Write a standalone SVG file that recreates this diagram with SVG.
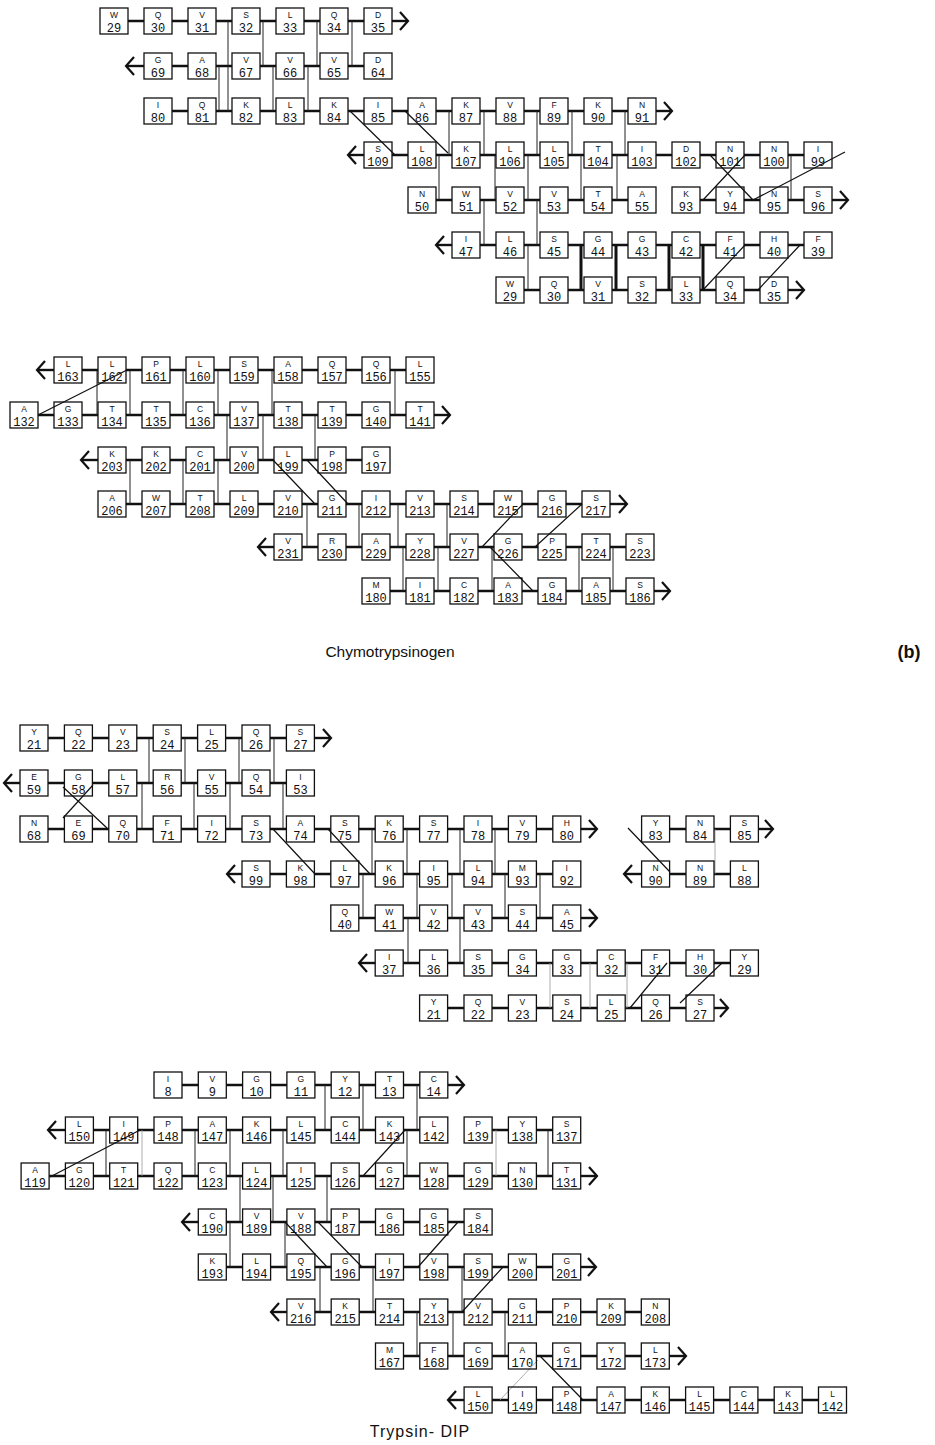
<svg xmlns="http://www.w3.org/2000/svg" xmlns:xlink="http://www.w3.org/1999/xlink" width="935" height="1445" viewBox="0 0 935 1445">
<style>
.bx{fill:none;stroke:#111;stroke-width:1.3}
.aa{font-family:"Liberation Sans",Arial,sans-serif;font-size:8.5px;text-anchor:middle;fill:#111}
.nm{font-family:"Liberation Mono","DejaVu Sans Mono",monospace;font-size:12px;text-anchor:middle;fill:#111}
.ch{fill:none;stroke:#111;stroke-width:2.4;stroke-dasharray:16 28}
.ch3{stroke-dasharray:16.4 28}
.ch4{stroke-dasharray:16.3 28}
.hb{fill:none;stroke:#222;stroke-width:1}
.ss{fill:none;stroke:#111;stroke-width:3}
.dg{fill:none;stroke:#111;stroke-width:1.2}
.ft{fill:none;stroke:#999;stroke-width:0.8}
.ar{fill:none;stroke:#111;stroke-width:2.4;marker-end:url(#ah)}
.lab{font-family:"Liberation Sans",Arial,sans-serif;fill:#111}
</style>
<defs>
<rect id="b" class="bx" x="-14" y="-13" width="28" height="26"/>
<marker id="ah" markerUnits="userSpaceOnUse" markerWidth="12" markerHeight="22" viewBox="0 0 12 22" refX="10" refY="11" orient="auto"><path d="M2,2 L10,11 L2,20" fill="none" stroke="#111" stroke-width="2.2"/></marker>
</defs>
<rect width="935" height="1445" fill="#fff"/>

<!-- backbone chains, hydrogen bonds, disulfides and cross links -->
<g id="connectors">
<!-- chymotrypsinogen, upper sheet -->
<path class="ch" d="M128,21H364M172,66H364M172,111H628M392,155H804M436,200H628M700,200H804M480,245H804M524,290H760"/>
<path class="ar" d="M392,21H408"/><path class="ar" d="M144,66H126"/><path class="ar" d="M656,111H672"/><path class="ar" d="M364,155H348"/><path class="ar" d="M832,200H848"/><path class="ar" d="M452,245H436"/><path class="ar" d="M788,290H804"/>
<path class="hb" d="M228,21V111M219,66V111M263,21V66M273,66V111M308,66V111M317,21V66M352,21V66M449,111V155M484,111V155M439,155V200M495,155V200M484,200V245M537,111V155M528,155V200M537,200V245M528,245V290M572,111V155M581,155V200M617,155V200M625,111V155M791,155V200"/>
<path class="ss" d="M581,245V290M616,245V290M669,245V290M703,245V290"/>
<path class="dg" d="M350,111L395,155M405,111L448,153M710,155L753,200M703,200L745,155M753,200L845,152M703,290L745,245M758,290L800,245"/>
<!-- chymotrypsinogen, lower sheet -->
<path class="ch" d="M82,370H406M38,415H406M126,460H362M126,504H582M302,547H626M390,591H626"/>
<path class="ar" d="M54,370H37"/><path class="ar" d="M434,415H450"/><path class="ar" d="M98,460H81"/><path class="ar" d="M610,504H627"/><path class="ar" d="M274,547H258"/><path class="ar" d="M654,591H670"/>
<path class="hb" d="M97,370V415M130,370V415M183,370V415M218,370V415M272,370V415M395,370V415M227,415V460M263,415V460M315,415V460M130,460V504M183,460V504M218,460V504M307,504V547M359,504V547M398,504V547M447,504V547M403,547V591M438,547V591M492,547V591M579,547V591M613,547V591"/>
<path class="dg" d="M38,415L127,370M273,460L315,504M307,460L348,504M482,547L523,504M535,547L582,504M490,547L533,591"/>
<!-- trypsin, upper sheet -->
<path class="ch ch3" d="M48,738H286.4M48,783H286.4M48,829H552.8M669.6,829H730.4M270,874H552.8M669.6,874H730.4M358.8,918H552.8M403.2,963H730.4M447.6,1008H686"/>
<path class="ar" d="M314.4,738H331"/><path class="ar" d="M20,783H4"/><path class="ar" d="M580.8,829H597"/><path class="ar" d="M758.4,829H773"/><path class="ar" d="M242,874H227"/><path class="ar" d="M641.6,874H624"/><path class="ar" d="M580.8,918H597"/><path class="ar" d="M375.2,963H359"/><path class="ar" d="M714,1008H728"/>
<path class="hb" d="M149,738V783M185,738V783M239,738V783M274,738V783M142,783V829M194,783V829M230,783V829M283,783V829M372,829V874M407,829V874M460,829V874M495,829V874M363,874V918M417,874V918M452,874V918M505,874V918M540,874V918M408,918V963M460,918V963"/>
<path class="ft" d="M715,829V874M550,963V1008M590,963V1008M627,963V1008"/>
<path class="dg" d="M63,787L107,828M93,785L63,818M273,829L315,874M328,829L370,874M628,828L670,872M630,1008L667,963M680,1003L722,963"/>
<!-- trypsin, lower sheet -->
<path class="ch ch4" d="M182,1085H419.8M93.4,1130H419.8M492.1,1130H552.7M49.1,1176H552.7M226.3,1222H464.1M226.3,1267H552.7M314.9,1312H641.3M403.5,1356H641.3M492.1,1400H818.5"/>
<path class="ar" d="M447.8,1085H464"/><path class="ar" d="M65.4,1130H48"/><path class="ar" d="M580.7,1176H597"/><path class="ar" d="M198.3,1222H182"/><path class="ar" d="M580.7,1267H596"/><path class="ar" d="M286.9,1312H271"/><path class="ar" d="M669.3,1356H686"/><path class="ar" d="M464.1,1400H448"/>
<path class="hb" d="M325,1085V1130M363,1085V1130M417,1085V1130M106,1130V1176M195,1130V1176M230,1130V1176M283,1130V1176M407,1130V1176M548,1130V1176M240,1176V1222M273,1176V1222M327,1176V1222M230,1222V1267M285,1222V1267M320,1267V1312M373,1267V1312M462,1267V1312M417,1312V1356M453,1312V1356M505,1312V1356"/>
<path class="ft" d="M142,1130V1176M496,1130V1176M538,1360L500,1400"/>
<path class="dg" d="M50,1177L140,1130M363,1176L405,1130M285,1222L327,1267M318,1222L362,1267M458,1222L418,1267M503,1267L462,1312M540,1356L583,1400"/>
</g>

<!-- chymotrypsinogen residues, upper sheet -->
<g id="c-W29" transform="translate(114,21)"><use href="#b"/><text class="aa" y="-3">W</text><text class="nm" y="10.5">29</text></g>
<g id="c-Q30" transform="translate(158,21)"><use href="#b"/><text class="aa" y="-3">Q</text><text class="nm" y="10.5">30</text></g>
<g id="c-V31" transform="translate(202,21)"><use href="#b"/><text class="aa" y="-3">V</text><text class="nm" y="10.5">31</text></g>
<g id="c-S32" transform="translate(246,21)"><use href="#b"/><text class="aa" y="-3">S</text><text class="nm" y="10.5">32</text></g>
<g id="c-L33" transform="translate(290,21)"><use href="#b"/><text class="aa" y="-3">L</text><text class="nm" y="10.5">33</text></g>
<g id="c-Q34" transform="translate(334,21)"><use href="#b"/><text class="aa" y="-3">Q</text><text class="nm" y="10.5">34</text></g>
<g id="c-D35" transform="translate(378,21)"><use href="#b"/><text class="aa" y="-3">D</text><text class="nm" y="10.5">35</text></g>
<g id="c-G69" transform="translate(158,66)"><use href="#b"/><text class="aa" y="-3">G</text><text class="nm" y="10.5">69</text></g>
<g id="c-A68" transform="translate(202,66)"><use href="#b"/><text class="aa" y="-3">A</text><text class="nm" y="10.5">68</text></g>
<g id="c-V67" transform="translate(246,66)"><use href="#b"/><text class="aa" y="-3">V</text><text class="nm" y="10.5">67</text></g>
<g id="c-V66" transform="translate(290,66)"><use href="#b"/><text class="aa" y="-3">V</text><text class="nm" y="10.5">66</text></g>
<g id="c-V65" transform="translate(334,66)"><use href="#b"/><text class="aa" y="-3">V</text><text class="nm" y="10.5">65</text></g>
<g id="c-D64" transform="translate(378,66)"><use href="#b"/><text class="aa" y="-3">D</text><text class="nm" y="10.5">64</text></g>
<g id="c-I80" transform="translate(158,111)"><use href="#b"/><text class="aa" y="-3">I</text><text class="nm" y="10.5">80</text></g>
<g id="c-Q81" transform="translate(202,111)"><use href="#b"/><text class="aa" y="-3">Q</text><text class="nm" y="10.5">81</text></g>
<g id="c-K82" transform="translate(246,111)"><use href="#b"/><text class="aa" y="-3">K</text><text class="nm" y="10.5">82</text></g>
<g id="c-L83" transform="translate(290,111)"><use href="#b"/><text class="aa" y="-3">L</text><text class="nm" y="10.5">83</text></g>
<g id="c-K84" transform="translate(334,111)"><use href="#b"/><text class="aa" y="-3">K</text><text class="nm" y="10.5">84</text></g>
<g id="c-I85" transform="translate(378,111)"><use href="#b"/><text class="aa" y="-3">I</text><text class="nm" y="10.5">85</text></g>
<g id="c-A86" transform="translate(422,111)"><use href="#b"/><text class="aa" y="-3">A</text><text class="nm" y="10.5">86</text></g>
<g id="c-K87" transform="translate(466,111)"><use href="#b"/><text class="aa" y="-3">K</text><text class="nm" y="10.5">87</text></g>
<g id="c-V88" transform="translate(510,111)"><use href="#b"/><text class="aa" y="-3">V</text><text class="nm" y="10.5">88</text></g>
<g id="c-F89" transform="translate(554,111)"><use href="#b"/><text class="aa" y="-3">F</text><text class="nm" y="10.5">89</text></g>
<g id="c-K90" transform="translate(598,111)"><use href="#b"/><text class="aa" y="-3">K</text><text class="nm" y="10.5">90</text></g>
<g id="c-N91" transform="translate(642,111)"><use href="#b"/><text class="aa" y="-3">N</text><text class="nm" y="10.5">91</text></g>
<g id="c-S109" transform="translate(378,155)"><use href="#b"/><text class="aa" y="-3">S</text><text class="nm" y="10.5">109</text></g>
<g id="c-L108" transform="translate(422,155)"><use href="#b"/><text class="aa" y="-3">L</text><text class="nm" y="10.5">108</text></g>
<g id="c-K107" transform="translate(466,155)"><use href="#b"/><text class="aa" y="-3">K</text><text class="nm" y="10.5">107</text></g>
<g id="c-L106" transform="translate(510,155)"><use href="#b"/><text class="aa" y="-3">L</text><text class="nm" y="10.5">106</text></g>
<g id="c-L105" transform="translate(554,155)"><use href="#b"/><text class="aa" y="-3">L</text><text class="nm" y="10.5">105</text></g>
<g id="c-T104" transform="translate(598,155)"><use href="#b"/><text class="aa" y="-3">T</text><text class="nm" y="10.5">104</text></g>
<g id="c-I103" transform="translate(642,155)"><use href="#b"/><text class="aa" y="-3">I</text><text class="nm" y="10.5">103</text></g>
<g id="c-D102" transform="translate(686,155)"><use href="#b"/><text class="aa" y="-3">D</text><text class="nm" y="10.5">102</text></g>
<g id="c-N101" transform="translate(730,155)"><use href="#b"/><text class="aa" y="-3">N</text><text class="nm" y="10.5">101</text></g>
<g id="c-N100" transform="translate(774,155)"><use href="#b"/><text class="aa" y="-3">N</text><text class="nm" y="10.5">100</text></g>
<g id="c-I99" transform="translate(818,155)"><use href="#b"/><text class="aa" y="-3">I</text><text class="nm" y="10.5">99</text></g>
<g id="c-N50" transform="translate(422,200)"><use href="#b"/><text class="aa" y="-3">N</text><text class="nm" y="10.5">50</text></g>
<g id="c-W51" transform="translate(466,200)"><use href="#b"/><text class="aa" y="-3">W</text><text class="nm" y="10.5">51</text></g>
<g id="c-V52" transform="translate(510,200)"><use href="#b"/><text class="aa" y="-3">V</text><text class="nm" y="10.5">52</text></g>
<g id="c-V53" transform="translate(554,200)"><use href="#b"/><text class="aa" y="-3">V</text><text class="nm" y="10.5">53</text></g>
<g id="c-T54" transform="translate(598,200)"><use href="#b"/><text class="aa" y="-3">T</text><text class="nm" y="10.5">54</text></g>
<g id="c-A55" transform="translate(642,200)"><use href="#b"/><text class="aa" y="-3">A</text><text class="nm" y="10.5">55</text></g>
<g id="c-K93" transform="translate(686,200)"><use href="#b"/><text class="aa" y="-3">K</text><text class="nm" y="10.5">93</text></g>
<g id="c-Y94" transform="translate(730,200)"><use href="#b"/><text class="aa" y="-3">Y</text><text class="nm" y="10.5">94</text></g>
<g id="c-N95" transform="translate(774,200)"><use href="#b"/><text class="aa" y="-3">N</text><text class="nm" y="10.5">95</text></g>
<g id="c-S96" transform="translate(818,200)"><use href="#b"/><text class="aa" y="-3">S</text><text class="nm" y="10.5">96</text></g>
<g id="c-I47" transform="translate(466,245)"><use href="#b"/><text class="aa" y="-3">I</text><text class="nm" y="10.5">47</text></g>
<g id="c-L46" transform="translate(510,245)"><use href="#b"/><text class="aa" y="-3">L</text><text class="nm" y="10.5">46</text></g>
<g id="c-S45" transform="translate(554,245)"><use href="#b"/><text class="aa" y="-3">S</text><text class="nm" y="10.5">45</text></g>
<g id="c-G44" transform="translate(598,245)"><use href="#b"/><text class="aa" y="-3">G</text><text class="nm" y="10.5">44</text></g>
<g id="c-G43" transform="translate(642,245)"><use href="#b"/><text class="aa" y="-3">G</text><text class="nm" y="10.5">43</text></g>
<g id="c-C42" transform="translate(686,245)"><use href="#b"/><text class="aa" y="-3">C</text><text class="nm" y="10.5">42</text></g>
<g id="c-F41" transform="translate(730,245)"><use href="#b"/><text class="aa" y="-3">F</text><text class="nm" y="10.5">41</text></g>
<g id="c-H40" transform="translate(774,245)"><use href="#b"/><text class="aa" y="-3">H</text><text class="nm" y="10.5">40</text></g>
<g id="c-F39" transform="translate(818,245)"><use href="#b"/><text class="aa" y="-3">F</text><text class="nm" y="10.5">39</text></g>
<g id="c-W29b" transform="translate(510,290)"><use href="#b"/><text class="aa" y="-3">W</text><text class="nm" y="10.5">29</text></g>
<g id="c-Q30b" transform="translate(554,290)"><use href="#b"/><text class="aa" y="-3">Q</text><text class="nm" y="10.5">30</text></g>
<g id="c-V31b" transform="translate(598,290)"><use href="#b"/><text class="aa" y="-3">V</text><text class="nm" y="10.5">31</text></g>
<g id="c-S32b" transform="translate(642,290)"><use href="#b"/><text class="aa" y="-3">S</text><text class="nm" y="10.5">32</text></g>
<g id="c-L33b" transform="translate(686,290)"><use href="#b"/><text class="aa" y="-3">L</text><text class="nm" y="10.5">33</text></g>
<g id="c-Q34b" transform="translate(730,290)"><use href="#b"/><text class="aa" y="-3">Q</text><text class="nm" y="10.5">34</text></g>
<g id="c-D35b" transform="translate(774,290)"><use href="#b"/><text class="aa" y="-3">D</text><text class="nm" y="10.5">35</text></g>

<!-- chymotrypsinogen residues, lower sheet -->
<g id="c-L163" transform="translate(68,370)"><use href="#b"/><text class="aa" y="-3">L</text><text class="nm" y="10.5">163</text></g>
<g id="c-L162" transform="translate(112,370)"><use href="#b"/><text class="aa" y="-3">L</text><text class="nm" y="10.5">162</text></g>
<g id="c-P161" transform="translate(156,370)"><use href="#b"/><text class="aa" y="-3">P</text><text class="nm" y="10.5">161</text></g>
<g id="c-L160" transform="translate(200,370)"><use href="#b"/><text class="aa" y="-3">L</text><text class="nm" y="10.5">160</text></g>
<g id="c-S159" transform="translate(244,370)"><use href="#b"/><text class="aa" y="-3">S</text><text class="nm" y="10.5">159</text></g>
<g id="c-A158" transform="translate(288,370)"><use href="#b"/><text class="aa" y="-3">A</text><text class="nm" y="10.5">158</text></g>
<g id="c-Q157" transform="translate(332,370)"><use href="#b"/><text class="aa" y="-3">Q</text><text class="nm" y="10.5">157</text></g>
<g id="c-Q156" transform="translate(376,370)"><use href="#b"/><text class="aa" y="-3">Q</text><text class="nm" y="10.5">156</text></g>
<g id="c-L155" transform="translate(420,370)"><use href="#b"/><text class="aa" y="-3">L</text><text class="nm" y="10.5">155</text></g>
<g id="c-A132" transform="translate(24,415)"><use href="#b"/><text class="aa" y="-3">A</text><text class="nm" y="10.5">132</text></g>
<g id="c-G133" transform="translate(68,415)"><use href="#b"/><text class="aa" y="-3">G</text><text class="nm" y="10.5">133</text></g>
<g id="c-T134" transform="translate(112,415)"><use href="#b"/><text class="aa" y="-3">T</text><text class="nm" y="10.5">134</text></g>
<g id="c-T135" transform="translate(156,415)"><use href="#b"/><text class="aa" y="-3">T</text><text class="nm" y="10.5">135</text></g>
<g id="c-C136" transform="translate(200,415)"><use href="#b"/><text class="aa" y="-3">C</text><text class="nm" y="10.5">136</text></g>
<g id="c-V137" transform="translate(244,415)"><use href="#b"/><text class="aa" y="-3">V</text><text class="nm" y="10.5">137</text></g>
<g id="c-T138" transform="translate(288,415)"><use href="#b"/><text class="aa" y="-3">T</text><text class="nm" y="10.5">138</text></g>
<g id="c-T139" transform="translate(332,415)"><use href="#b"/><text class="aa" y="-3">T</text><text class="nm" y="10.5">139</text></g>
<g id="c-G140" transform="translate(376,415)"><use href="#b"/><text class="aa" y="-3">G</text><text class="nm" y="10.5">140</text></g>
<g id="c-T141" transform="translate(420,415)"><use href="#b"/><text class="aa" y="-3">T</text><text class="nm" y="10.5">141</text></g>
<g id="c-K203" transform="translate(112,460)"><use href="#b"/><text class="aa" y="-3">K</text><text class="nm" y="10.5">203</text></g>
<g id="c-K202" transform="translate(156,460)"><use href="#b"/><text class="aa" y="-3">K</text><text class="nm" y="10.5">202</text></g>
<g id="c-C201" transform="translate(200,460)"><use href="#b"/><text class="aa" y="-3">C</text><text class="nm" y="10.5">201</text></g>
<g id="c-V200" transform="translate(244,460)"><use href="#b"/><text class="aa" y="-3">V</text><text class="nm" y="10.5">200</text></g>
<g id="c-L199" transform="translate(288,460)"><use href="#b"/><text class="aa" y="-3">L</text><text class="nm" y="10.5">199</text></g>
<g id="c-P198" transform="translate(332,460)"><use href="#b"/><text class="aa" y="-3">P</text><text class="nm" y="10.5">198</text></g>
<g id="c-G197" transform="translate(376,460)"><use href="#b"/><text class="aa" y="-3">G</text><text class="nm" y="10.5">197</text></g>
<g id="c-A206" transform="translate(112,504)"><use href="#b"/><text class="aa" y="-3">A</text><text class="nm" y="10.5">206</text></g>
<g id="c-W207" transform="translate(156,504)"><use href="#b"/><text class="aa" y="-3">W</text><text class="nm" y="10.5">207</text></g>
<g id="c-T208" transform="translate(200,504)"><use href="#b"/><text class="aa" y="-3">T</text><text class="nm" y="10.5">208</text></g>
<g id="c-L209" transform="translate(244,504)"><use href="#b"/><text class="aa" y="-3">L</text><text class="nm" y="10.5">209</text></g>
<g id="c-V210" transform="translate(288,504)"><use href="#b"/><text class="aa" y="-3">V</text><text class="nm" y="10.5">210</text></g>
<g id="c-G211" transform="translate(332,504)"><use href="#b"/><text class="aa" y="-3">G</text><text class="nm" y="10.5">211</text></g>
<g id="c-I212" transform="translate(376,504)"><use href="#b"/><text class="aa" y="-3">I</text><text class="nm" y="10.5">212</text></g>
<g id="c-V213" transform="translate(420,504)"><use href="#b"/><text class="aa" y="-3">V</text><text class="nm" y="10.5">213</text></g>
<g id="c-S214" transform="translate(464,504)"><use href="#b"/><text class="aa" y="-3">S</text><text class="nm" y="10.5">214</text></g>
<g id="c-W215" transform="translate(508,504)"><use href="#b"/><text class="aa" y="-3">W</text><text class="nm" y="10.5">215</text></g>
<g id="c-G216" transform="translate(552,504)"><use href="#b"/><text class="aa" y="-3">G</text><text class="nm" y="10.5">216</text></g>
<g id="c-S217" transform="translate(596,504)"><use href="#b"/><text class="aa" y="-3">S</text><text class="nm" y="10.5">217</text></g>
<g id="c-V231" transform="translate(288,547)"><use href="#b"/><text class="aa" y="-3">V</text><text class="nm" y="10.5">231</text></g>
<g id="c-R230" transform="translate(332,547)"><use href="#b"/><text class="aa" y="-3">R</text><text class="nm" y="10.5">230</text></g>
<g id="c-A229" transform="translate(376,547)"><use href="#b"/><text class="aa" y="-3">A</text><text class="nm" y="10.5">229</text></g>
<g id="c-Y228" transform="translate(420,547)"><use href="#b"/><text class="aa" y="-3">Y</text><text class="nm" y="10.5">228</text></g>
<g id="c-V227" transform="translate(464,547)"><use href="#b"/><text class="aa" y="-3">V</text><text class="nm" y="10.5">227</text></g>
<g id="c-G226" transform="translate(508,547)"><use href="#b"/><text class="aa" y="-3">G</text><text class="nm" y="10.5">226</text></g>
<g id="c-P225" transform="translate(552,547)"><use href="#b"/><text class="aa" y="-3">P</text><text class="nm" y="10.5">225</text></g>
<g id="c-T224" transform="translate(596,547)"><use href="#b"/><text class="aa" y="-3">T</text><text class="nm" y="10.5">224</text></g>
<g id="c-S223" transform="translate(640,547)"><use href="#b"/><text class="aa" y="-3">S</text><text class="nm" y="10.5">223</text></g>
<g id="c-M180" transform="translate(376,591)"><use href="#b"/><text class="aa" y="-3">M</text><text class="nm" y="10.5">180</text></g>
<g id="c-I181" transform="translate(420,591)"><use href="#b"/><text class="aa" y="-3">I</text><text class="nm" y="10.5">181</text></g>
<g id="c-C182" transform="translate(464,591)"><use href="#b"/><text class="aa" y="-3">C</text><text class="nm" y="10.5">182</text></g>
<g id="c-A183" transform="translate(508,591)"><use href="#b"/><text class="aa" y="-3">A</text><text class="nm" y="10.5">183</text></g>
<g id="c-G184" transform="translate(552,591)"><use href="#b"/><text class="aa" y="-3">G</text><text class="nm" y="10.5">184</text></g>
<g id="c-A185" transform="translate(596,591)"><use href="#b"/><text class="aa" y="-3">A</text><text class="nm" y="10.5">185</text></g>
<g id="c-S186" transform="translate(640,591)"><use href="#b"/><text class="aa" y="-3">S</text><text class="nm" y="10.5">186</text></g>

<text class="lab" x="390" y="657" font-size="15.5" text-anchor="middle">Chymotrypsinogen</text>
<text class="lab" x="909" y="658" font-size="18" font-weight="bold" text-anchor="middle">(b)</text>

<!-- trypsin residues, upper sheet -->
<g id="t-Y21" transform="translate(34,738)"><use href="#b"/><text class="aa" y="-3">Y</text><text class="nm" y="10.5">21</text></g>
<g id="t-Q22" transform="translate(78.4,738)"><use href="#b"/><text class="aa" y="-3">Q</text><text class="nm" y="10.5">22</text></g>
<g id="t-V23" transform="translate(122.8,738)"><use href="#b"/><text class="aa" y="-3">V</text><text class="nm" y="10.5">23</text></g>
<g id="t-S24" transform="translate(167.2,738)"><use href="#b"/><text class="aa" y="-3">S</text><text class="nm" y="10.5">24</text></g>
<g id="t-L25" transform="translate(211.6,738)"><use href="#b"/><text class="aa" y="-3">L</text><text class="nm" y="10.5">25</text></g>
<g id="t-Q26" transform="translate(256,738)"><use href="#b"/><text class="aa" y="-3">Q</text><text class="nm" y="10.5">26</text></g>
<g id="t-S27" transform="translate(300.4,738)"><use href="#b"/><text class="aa" y="-3">S</text><text class="nm" y="10.5">27</text></g>
<g id="t-E59" transform="translate(34,783)"><use href="#b"/><text class="aa" y="-3">E</text><text class="nm" y="10.5">59</text></g>
<g id="t-G58" transform="translate(78.4,783)"><use href="#b"/><text class="aa" y="-3">G</text><text class="nm" y="10.5">58</text></g>
<g id="t-L57" transform="translate(122.8,783)"><use href="#b"/><text class="aa" y="-3">L</text><text class="nm" y="10.5">57</text></g>
<g id="t-R56" transform="translate(167.2,783)"><use href="#b"/><text class="aa" y="-3">R</text><text class="nm" y="10.5">56</text></g>
<g id="t-V55" transform="translate(211.6,783)"><use href="#b"/><text class="aa" y="-3">V</text><text class="nm" y="10.5">55</text></g>
<g id="t-Q54" transform="translate(256,783)"><use href="#b"/><text class="aa" y="-3">Q</text><text class="nm" y="10.5">54</text></g>
<g id="t-I53" transform="translate(300.4,783)"><use href="#b"/><text class="aa" y="-3">I</text><text class="nm" y="10.5">53</text></g>
<g id="t-N68" transform="translate(34,829)"><use href="#b"/><text class="aa" y="-3">N</text><text class="nm" y="10.5">68</text></g>
<g id="t-E69" transform="translate(78.4,829)"><use href="#b"/><text class="aa" y="-3">E</text><text class="nm" y="10.5">69</text></g>
<g id="t-Q70" transform="translate(122.8,829)"><use href="#b"/><text class="aa" y="-3">Q</text><text class="nm" y="10.5">70</text></g>
<g id="t-F71" transform="translate(167.2,829)"><use href="#b"/><text class="aa" y="-3">F</text><text class="nm" y="10.5">71</text></g>
<g id="t-I72" transform="translate(211.6,829)"><use href="#b"/><text class="aa" y="-3">I</text><text class="nm" y="10.5">72</text></g>
<g id="t-S73" transform="translate(256,829)"><use href="#b"/><text class="aa" y="-3">S</text><text class="nm" y="10.5">73</text></g>
<g id="t-A74" transform="translate(300.4,829)"><use href="#b"/><text class="aa" y="-3">A</text><text class="nm" y="10.5">74</text></g>
<g id="t-S75" transform="translate(344.8,829)"><use href="#b"/><text class="aa" y="-3">S</text><text class="nm" y="10.5">75</text></g>
<g id="t-K76" transform="translate(389.2,829)"><use href="#b"/><text class="aa" y="-3">K</text><text class="nm" y="10.5">76</text></g>
<g id="t-S77" transform="translate(433.6,829)"><use href="#b"/><text class="aa" y="-3">S</text><text class="nm" y="10.5">77</text></g>
<g id="t-I78" transform="translate(478,829)"><use href="#b"/><text class="aa" y="-3">I</text><text class="nm" y="10.5">78</text></g>
<g id="t-V79" transform="translate(522.4,829)"><use href="#b"/><text class="aa" y="-3">V</text><text class="nm" y="10.5">79</text></g>
<g id="t-H80" transform="translate(566.8,829)"><use href="#b"/><text class="aa" y="-3">H</text><text class="nm" y="10.5">80</text></g>
<g id="t-Y83" transform="translate(655.6,829)"><use href="#b"/><text class="aa" y="-3">Y</text><text class="nm" y="10.5">83</text></g>
<g id="t-N84" transform="translate(700,829)"><use href="#b"/><text class="aa" y="-3">N</text><text class="nm" y="10.5">84</text></g>
<g id="t-S85" transform="translate(744.4,829)"><use href="#b"/><text class="aa" y="-3">S</text><text class="nm" y="10.5">85</text></g>
<g id="t-S99" transform="translate(256,874)"><use href="#b"/><text class="aa" y="-3">S</text><text class="nm" y="10.5">99</text></g>
<g id="t-K98" transform="translate(300.4,874)"><use href="#b"/><text class="aa" y="-3">K</text><text class="nm" y="10.5">98</text></g>
<g id="t-L97" transform="translate(344.8,874)"><use href="#b"/><text class="aa" y="-3">L</text><text class="nm" y="10.5">97</text></g>
<g id="t-K96" transform="translate(389.2,874)"><use href="#b"/><text class="aa" y="-3">K</text><text class="nm" y="10.5">96</text></g>
<g id="t-I95" transform="translate(433.6,874)"><use href="#b"/><text class="aa" y="-3">I</text><text class="nm" y="10.5">95</text></g>
<g id="t-L94" transform="translate(478,874)"><use href="#b"/><text class="aa" y="-3">L</text><text class="nm" y="10.5">94</text></g>
<g id="t-M93" transform="translate(522.4,874)"><use href="#b"/><text class="aa" y="-3">M</text><text class="nm" y="10.5">93</text></g>
<g id="t-I92" transform="translate(566.8,874)"><use href="#b"/><text class="aa" y="-3">I</text><text class="nm" y="10.5">92</text></g>
<g id="t-N90" transform="translate(655.6,874)"><use href="#b"/><text class="aa" y="-3">N</text><text class="nm" y="10.5">90</text></g>
<g id="t-N89" transform="translate(700,874)"><use href="#b"/><text class="aa" y="-3">N</text><text class="nm" y="10.5">89</text></g>
<g id="t-L88" transform="translate(744.4,874)"><use href="#b"/><text class="aa" y="-3">L</text><text class="nm" y="10.5">88</text></g>
<g id="t-Q40" transform="translate(344.8,918)"><use href="#b"/><text class="aa" y="-3">Q</text><text class="nm" y="10.5">40</text></g>
<g id="t-W41" transform="translate(389.2,918)"><use href="#b"/><text class="aa" y="-3">W</text><text class="nm" y="10.5">41</text></g>
<g id="t-V42" transform="translate(433.6,918)"><use href="#b"/><text class="aa" y="-3">V</text><text class="nm" y="10.5">42</text></g>
<g id="t-V43" transform="translate(478,918)"><use href="#b"/><text class="aa" y="-3">V</text><text class="nm" y="10.5">43</text></g>
<g id="t-S44" transform="translate(522.4,918)"><use href="#b"/><text class="aa" y="-3">S</text><text class="nm" y="10.5">44</text></g>
<g id="t-A45" transform="translate(566.8,918)"><use href="#b"/><text class="aa" y="-3">A</text><text class="nm" y="10.5">45</text></g>
<g id="t-I37" transform="translate(389.2,963)"><use href="#b"/><text class="aa" y="-3">I</text><text class="nm" y="10.5">37</text></g>
<g id="t-L36" transform="translate(433.6,963)"><use href="#b"/><text class="aa" y="-3">L</text><text class="nm" y="10.5">36</text></g>
<g id="t-S35" transform="translate(478,963)"><use href="#b"/><text class="aa" y="-3">S</text><text class="nm" y="10.5">35</text></g>
<g id="t-G34" transform="translate(522.4,963)"><use href="#b"/><text class="aa" y="-3">G</text><text class="nm" y="10.5">34</text></g>
<g id="t-G33" transform="translate(566.8,963)"><use href="#b"/><text class="aa" y="-3">G</text><text class="nm" y="10.5">33</text></g>
<g id="t-C32" transform="translate(611.2,963)"><use href="#b"/><text class="aa" y="-3">C</text><text class="nm" y="10.5">32</text></g>
<g id="t-F31" transform="translate(655.6,963)"><use href="#b"/><text class="aa" y="-3">F</text><text class="nm" y="10.5">31</text></g>
<g id="t-H30" transform="translate(700,963)"><use href="#b"/><text class="aa" y="-3">H</text><text class="nm" y="10.5">30</text></g>
<g id="t-Y29" transform="translate(744.4,963)"><use href="#b"/><text class="aa" y="-3">Y</text><text class="nm" y="10.5">29</text></g>
<g id="t-Y21b" transform="translate(433.6,1008)"><use href="#b"/><text class="aa" y="-3">Y</text><text class="nm" y="10.5">21</text></g>
<g id="t-Q22b" transform="translate(478,1008)"><use href="#b"/><text class="aa" y="-3">Q</text><text class="nm" y="10.5">22</text></g>
<g id="t-V23b" transform="translate(522.4,1008)"><use href="#b"/><text class="aa" y="-3">V</text><text class="nm" y="10.5">23</text></g>
<g id="t-S24b" transform="translate(566.8,1008)"><use href="#b"/><text class="aa" y="-3">S</text><text class="nm" y="10.5">24</text></g>
<g id="t-L25b" transform="translate(611.2,1008)"><use href="#b"/><text class="aa" y="-3">L</text><text class="nm" y="10.5">25</text></g>
<g id="t-Q26b" transform="translate(655.6,1008)"><use href="#b"/><text class="aa" y="-3">Q</text><text class="nm" y="10.5">26</text></g>
<g id="t-S27b" transform="translate(700,1008)"><use href="#b"/><text class="aa" y="-3">S</text><text class="nm" y="10.5">27</text></g>

<!-- trypsin residues, lower sheet -->
<g id="t-I8" transform="translate(168,1085)"><use href="#b"/><text class="aa" y="-3">I</text><text class="nm" y="10.5">8</text></g>
<g id="t-V9" transform="translate(212.3,1085)"><use href="#b"/><text class="aa" y="-3">V</text><text class="nm" y="10.5">9</text></g>
<g id="t-G10" transform="translate(256.6,1085)"><use href="#b"/><text class="aa" y="-3">G</text><text class="nm" y="10.5">10</text></g>
<g id="t-G11" transform="translate(300.9,1085)"><use href="#b"/><text class="aa" y="-3">G</text><text class="nm" y="10.5">11</text></g>
<g id="t-Y12" transform="translate(345.2,1085)"><use href="#b"/><text class="aa" y="-3">Y</text><text class="nm" y="10.5">12</text></g>
<g id="t-T13" transform="translate(389.5,1085)"><use href="#b"/><text class="aa" y="-3">T</text><text class="nm" y="10.5">13</text></g>
<g id="t-C14" transform="translate(433.8,1085)"><use href="#b"/><text class="aa" y="-3">C</text><text class="nm" y="10.5">14</text></g>
<g id="t-L150" transform="translate(79.4,1130)"><use href="#b"/><text class="aa" y="-3">L</text><text class="nm" y="10.5">150</text></g>
<g id="t-I149" transform="translate(123.7,1130)"><use href="#b"/><text class="aa" y="-3">I</text><text class="nm" y="10.5">149</text></g>
<g id="t-P148" transform="translate(168,1130)"><use href="#b"/><text class="aa" y="-3">P</text><text class="nm" y="10.5">148</text></g>
<g id="t-A147" transform="translate(212.3,1130)"><use href="#b"/><text class="aa" y="-3">A</text><text class="nm" y="10.5">147</text></g>
<g id="t-K146" transform="translate(256.6,1130)"><use href="#b"/><text class="aa" y="-3">K</text><text class="nm" y="10.5">146</text></g>
<g id="t-L145" transform="translate(300.9,1130)"><use href="#b"/><text class="aa" y="-3">L</text><text class="nm" y="10.5">145</text></g>
<g id="t-C144" transform="translate(345.2,1130)"><use href="#b"/><text class="aa" y="-3">C</text><text class="nm" y="10.5">144</text></g>
<g id="t-K143" transform="translate(389.5,1130)"><use href="#b"/><text class="aa" y="-3">K</text><text class="nm" y="10.5">143</text></g>
<g id="t-L142" transform="translate(433.8,1130)"><use href="#b"/><text class="aa" y="-3">L</text><text class="nm" y="10.5">142</text></g>
<g id="t-P139" transform="translate(478.1,1130)"><use href="#b"/><text class="aa" y="-3">P</text><text class="nm" y="10.5">139</text></g>
<g id="t-Y138" transform="translate(522.4,1130)"><use href="#b"/><text class="aa" y="-3">Y</text><text class="nm" y="10.5">138</text></g>
<g id="t-S137" transform="translate(566.7,1130)"><use href="#b"/><text class="aa" y="-3">S</text><text class="nm" y="10.5">137</text></g>
<g id="t-A119" transform="translate(35.1,1176)"><use href="#b"/><text class="aa" y="-3">A</text><text class="nm" y="10.5">119</text></g>
<g id="t-G120" transform="translate(79.4,1176)"><use href="#b"/><text class="aa" y="-3">G</text><text class="nm" y="10.5">120</text></g>
<g id="t-T121" transform="translate(123.7,1176)"><use href="#b"/><text class="aa" y="-3">T</text><text class="nm" y="10.5">121</text></g>
<g id="t-Q122" transform="translate(168,1176)"><use href="#b"/><text class="aa" y="-3">Q</text><text class="nm" y="10.5">122</text></g>
<g id="t-C123" transform="translate(212.3,1176)"><use href="#b"/><text class="aa" y="-3">C</text><text class="nm" y="10.5">123</text></g>
<g id="t-L124" transform="translate(256.6,1176)"><use href="#b"/><text class="aa" y="-3">L</text><text class="nm" y="10.5">124</text></g>
<g id="t-I125" transform="translate(300.9,1176)"><use href="#b"/><text class="aa" y="-3">I</text><text class="nm" y="10.5">125</text></g>
<g id="t-S126" transform="translate(345.2,1176)"><use href="#b"/><text class="aa" y="-3">S</text><text class="nm" y="10.5">126</text></g>
<g id="t-G127" transform="translate(389.5,1176)"><use href="#b"/><text class="aa" y="-3">G</text><text class="nm" y="10.5">127</text></g>
<g id="t-W128" transform="translate(433.8,1176)"><use href="#b"/><text class="aa" y="-3">W</text><text class="nm" y="10.5">128</text></g>
<g id="t-G129" transform="translate(478.1,1176)"><use href="#b"/><text class="aa" y="-3">G</text><text class="nm" y="10.5">129</text></g>
<g id="t-N130" transform="translate(522.4,1176)"><use href="#b"/><text class="aa" y="-3">N</text><text class="nm" y="10.5">130</text></g>
<g id="t-T131" transform="translate(566.7,1176)"><use href="#b"/><text class="aa" y="-3">T</text><text class="nm" y="10.5">131</text></g>
<g id="t-C190" transform="translate(212.3,1222)"><use href="#b"/><text class="aa" y="-3">C</text><text class="nm" y="10.5">190</text></g>
<g id="t-V189" transform="translate(256.6,1222)"><use href="#b"/><text class="aa" y="-3">V</text><text class="nm" y="10.5">189</text></g>
<g id="t-V188" transform="translate(300.9,1222)"><use href="#b"/><text class="aa" y="-3">V</text><text class="nm" y="10.5">188</text></g>
<g id="t-P187" transform="translate(345.2,1222)"><use href="#b"/><text class="aa" y="-3">P</text><text class="nm" y="10.5">187</text></g>
<g id="t-G186" transform="translate(389.5,1222)"><use href="#b"/><text class="aa" y="-3">G</text><text class="nm" y="10.5">186</text></g>
<g id="t-G185" transform="translate(433.8,1222)"><use href="#b"/><text class="aa" y="-3">G</text><text class="nm" y="10.5">185</text></g>
<g id="t-S184" transform="translate(478.1,1222)"><use href="#b"/><text class="aa" y="-3">S</text><text class="nm" y="10.5">184</text></g>
<g id="t-K193" transform="translate(212.3,1267)"><use href="#b"/><text class="aa" y="-3">K</text><text class="nm" y="10.5">193</text></g>
<g id="t-L194" transform="translate(256.6,1267)"><use href="#b"/><text class="aa" y="-3">L</text><text class="nm" y="10.5">194</text></g>
<g id="t-Q195" transform="translate(300.9,1267)"><use href="#b"/><text class="aa" y="-3">Q</text><text class="nm" y="10.5">195</text></g>
<g id="t-G196" transform="translate(345.2,1267)"><use href="#b"/><text class="aa" y="-3">G</text><text class="nm" y="10.5">196</text></g>
<g id="t-I197" transform="translate(389.5,1267)"><use href="#b"/><text class="aa" y="-3">I</text><text class="nm" y="10.5">197</text></g>
<g id="t-V198" transform="translate(433.8,1267)"><use href="#b"/><text class="aa" y="-3">V</text><text class="nm" y="10.5">198</text></g>
<g id="t-S199" transform="translate(478.1,1267)"><use href="#b"/><text class="aa" y="-3">S</text><text class="nm" y="10.5">199</text></g>
<g id="t-W200" transform="translate(522.4,1267)"><use href="#b"/><text class="aa" y="-3">W</text><text class="nm" y="10.5">200</text></g>
<g id="t-G201" transform="translate(566.7,1267)"><use href="#b"/><text class="aa" y="-3">G</text><text class="nm" y="10.5">201</text></g>
<g id="t-V216" transform="translate(300.9,1312)"><use href="#b"/><text class="aa" y="-3">V</text><text class="nm" y="10.5">216</text></g>
<g id="t-K215" transform="translate(345.2,1312)"><use href="#b"/><text class="aa" y="-3">K</text><text class="nm" y="10.5">215</text></g>
<g id="t-T214" transform="translate(389.5,1312)"><use href="#b"/><text class="aa" y="-3">T</text><text class="nm" y="10.5">214</text></g>
<g id="t-Y213" transform="translate(433.8,1312)"><use href="#b"/><text class="aa" y="-3">Y</text><text class="nm" y="10.5">213</text></g>
<g id="t-V212" transform="translate(478.1,1312)"><use href="#b"/><text class="aa" y="-3">V</text><text class="nm" y="10.5">212</text></g>
<g id="t-G211" transform="translate(522.4,1312)"><use href="#b"/><text class="aa" y="-3">G</text><text class="nm" y="10.5">211</text></g>
<g id="t-P210" transform="translate(566.7,1312)"><use href="#b"/><text class="aa" y="-3">P</text><text class="nm" y="10.5">210</text></g>
<g id="t-K209" transform="translate(611,1312)"><use href="#b"/><text class="aa" y="-3">K</text><text class="nm" y="10.5">209</text></g>
<g id="t-N208" transform="translate(655.3,1312)"><use href="#b"/><text class="aa" y="-3">N</text><text class="nm" y="10.5">208</text></g>
<g id="t-M167" transform="translate(389.5,1356)"><use href="#b"/><text class="aa" y="-3">M</text><text class="nm" y="10.5">167</text></g>
<g id="t-F168" transform="translate(433.8,1356)"><use href="#b"/><text class="aa" y="-3">F</text><text class="nm" y="10.5">168</text></g>
<g id="t-C169" transform="translate(478.1,1356)"><use href="#b"/><text class="aa" y="-3">C</text><text class="nm" y="10.5">169</text></g>
<g id="t-A170" transform="translate(522.4,1356)"><use href="#b"/><text class="aa" y="-3">A</text><text class="nm" y="10.5">170</text></g>
<g id="t-G171" transform="translate(566.7,1356)"><use href="#b"/><text class="aa" y="-3">G</text><text class="nm" y="10.5">171</text></g>
<g id="t-Y172" transform="translate(611,1356)"><use href="#b"/><text class="aa" y="-3">Y</text><text class="nm" y="10.5">172</text></g>
<g id="t-L173" transform="translate(655.3,1356)"><use href="#b"/><text class="aa" y="-3">L</text><text class="nm" y="10.5">173</text></g>
<g id="t-L150b" transform="translate(478.1,1400)"><use href="#b"/><text class="aa" y="-3">L</text><text class="nm" y="10.5">150</text></g>
<g id="t-I149b" transform="translate(522.4,1400)"><use href="#b"/><text class="aa" y="-3">I</text><text class="nm" y="10.5">149</text></g>
<g id="t-P148b" transform="translate(566.7,1400)"><use href="#b"/><text class="aa" y="-3">P</text><text class="nm" y="10.5">148</text></g>
<g id="t-A147b" transform="translate(611,1400)"><use href="#b"/><text class="aa" y="-3">A</text><text class="nm" y="10.5">147</text></g>
<g id="t-K146b" transform="translate(655.3,1400)"><use href="#b"/><text class="aa" y="-3">K</text><text class="nm" y="10.5">146</text></g>
<g id="t-L145b" transform="translate(699.6,1400)"><use href="#b"/><text class="aa" y="-3">L</text><text class="nm" y="10.5">145</text></g>
<g id="t-C144b" transform="translate(743.9,1400)"><use href="#b"/><text class="aa" y="-3">C</text><text class="nm" y="10.5">144</text></g>
<g id="t-K143b" transform="translate(788.2,1400)"><use href="#b"/><text class="aa" y="-3">K</text><text class="nm" y="10.5">143</text></g>
<g id="t-L142b" transform="translate(832.5,1400)"><use href="#b"/><text class="aa" y="-3">L</text><text class="nm" y="10.5">142</text></g>

<text class="lab" x="420" y="1437" font-size="16" letter-spacing="1" text-anchor="middle">Trypsin- DIP</text>
</svg>
